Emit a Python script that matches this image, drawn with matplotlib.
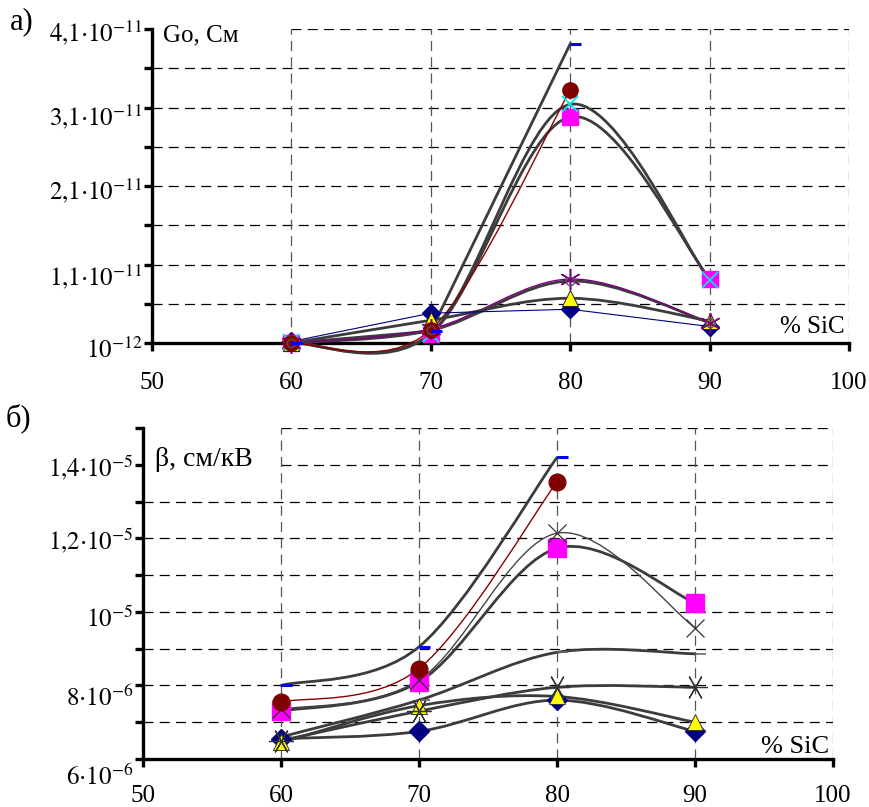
import numpy as np
import matplotlib.pyplot as plt
import matplotlib.transforms as mtransforms
from matplotlib.path import Path
from matplotlib.patches import PathPatch

plt.rcParams['font.family'] = ['Liberation Serif', 'DejaVu Serif']
plt.rcParams['mathtext.fontset'] = 'stix'

# ---- data ----
sic = [60, 70, 80, 90]
nan = np.nan

# panel a) Go, См
g_dash = [1.0e-12, 2.5e-12, 3.91e-11, nan]
g_circle = [1.0e-12, 2.7e-12, 3.32e-11, nan]
g_cross = [1.1e-12, 2.2e-12, 3.14e-11, 9.0e-12]
g_square = [1.0e-12, 2.2e-12, 2.98e-11, 9.2e-12]
g_star = [1.0e-12, 2.8e-12, 9.15e-12, 3.6e-12]
g_ring = [1.0e-12, 2.6e-12, 8.9e-12, 3.6e-12]
g_tri = [1.0e-12, 3.9e-12, 6.7e-12, 3.8e-12]
g_diamond = [1.2e-12, 4.8e-12, 5.3e-12, 3.1e-12]

g_major = [1e-12, 1.1e-11, 2.1e-11, 3.1e-11, 4.1e-11]
g_minor = [0.6e-11, 1.6e-11, 2.6e-11, 3.6e-11]
g_labels = [r'$10^{-12}$', r'$1{,}1{\cdot}10^{-11}$', r'$2{,}1{\cdot}10^{-11}$',
            r'$3{,}1{\cdot}10^{-11}$', r'$4{,}1{\cdot}10^{-11}$']

# panel б) beta, см/кВ
b_dash = [8.0e-6, 9.05e-6, 1.42e-5, nan]
b_circle = [7.55e-6, 8.46e-6, 1.354e-5, nan]
b_square = [7.3e-6, 8.1e-6, 1.173e-5, 1.024e-5]
b_cross = [7.35e-6, 8.15e-6, 1.214e-5, 9.57e-6]
b_flat = [6.6e-6, 7.6e-6, 8.9e-6, 8.86e-6]
b_star = [6.5e-6, 7.3e-6, 7.95e-6, 7.95e-6]
b_tri = [6.45e-6, 7.45e-6, 7.7e-6, 7.0e-6]
b_diamond = [6.55e-6, 6.75e-6, 7.6e-6, 6.75e-6]

b_major = [6e-6, 8e-6, 1e-5, 1.2e-5, 1.4e-5]
b_minor = [7e-6, 9e-6, 1.1e-5, 1.3e-5, 1.5e-5]
b_labels = [r'$6{\cdot}10^{-6}$', r'$8{\cdot}10^{-6}$', r'$10^{-5}$',
            r'$1{,}2{\cdot}10^{-5}$', r'$1{,}4{\cdot}10^{-5}$']

x_ticks = [50, 60, 70, 80, 90, 100]

GRAY = '#3c3c3c'
dash_marker = Path([[0, 0], [1, 0]])


def smooth_line(ax, xs, ys, **kw):
    # Excel-like smoothed line: cubic bezier through the points
    pts = np.array([(x, y) for x, y in zip(xs, ys) if not np.isnan(y)])
    n = len(pts)
    verts = [tuple(pts[0])]
    codes = [Path.MOVETO]
    for i in range(n - 1):
        p_prev = pts[max(i - 1, 0)]
        p_next = pts[min(i + 2, n - 1)]
        c1 = pts[i] + (pts[i + 1] - p_prev) / 6
        c2 = pts[i + 1] - (p_next - pts[i]) / 6
        verts += [tuple(c1), tuple(c2), tuple(pts[i + 1])]
        codes += [Path.CURVE4] * 3
    ax.add_patch(PathPatch(Path(verts, codes), fill=False, clip_on=False,
                           capstyle='round', **kw))


def frame(ax, ylo, yhi, major, minor, labels, fs, xpad, top_from, shifts):
    ax.set_xlim(50, 100)
    ax.set_ylim(ylo, yhi)
    for s in ['top', 'right']:
        ax.spines[s].set_visible(False)
    for s in ['left', 'bottom']:
        ax.spines[s].set_linewidth(2.4)
    levels = sorted(major[1:] + minor)
    for yv in levels:
        x0 = top_from if yv in (yhi, major[-1]) else 50
        ax.hlines(yv, x0, 100, colors='k', linestyles=(0, (8, 5)), lw=0.9, zorder=1)
    ax.vlines([60, 70, 80, 90, 100], ylo, yhi, colors='#555555',
              linestyles=(0, (8, 5)), lw=0.9, zorder=1)
    ax.set_xticks(x_ticks)
    ax.set_yticks(major)
    ax.set_yticklabels(labels)
    ax.set_yticks(minor, minor=True)
    ax.tick_params(axis='x', direction='out', length=6, width=2.4,
                   labelsize=fs, pad=xpad)
    ax.tick_params(axis='y', which='both', direction='out', length=6,
                   width=2.4, labelsize=fs, pad=1)
    # Excel places the labels a little below their ticks
    for lab, dy in zip(ax.get_yticklabels(), shifts):
        lab.set_transform(lab.get_transform() +
                          mtransforms.ScaledTranslation(0, -dy / 100, fig.dpi_scale_trans))


fig = plt.figure(figsize=(8.7, 8.07), dpi=100)

# ---------------- panel a) ----------------
ax1 = fig.add_axes([152 / 870, 1 - 343 / 807, 697 / 870, 314 / 807])
frame(ax1, 1e-12, 4.1e-11, g_major, g_minor, g_labels, 18, 15, 60, [5, 9, 2, 6, 1])

ax1.plot(sic, g_dash, color=GRAY, lw=2, zorder=3, clip_on=False)
smooth_line(ax1, sic, g_cross, color=GRAY, lw=2, zorder=3)
smooth_line(ax1, sic, g_square, color=GRAY, lw=2, zorder=3)
smooth_line(ax1, sic, g_circle, color='#8b0000', lw=1, zorder=3)
smooth_line(ax1, sic, g_ring, color=GRAY, lw=2, zorder=3)
smooth_line(ax1, sic, g_star, color='#800080', lw=1, zorder=3)
smooth_line(ax1, sic, g_tri, color=GRAY, lw=2, zorder=3)
ax1.plot(sic, g_diamond, color='#000080', lw=0.8, zorder=3, clip_on=False)

ax1.plot(sic, g_diamond, ls='none', marker='D', ms=9, color='#000080', zorder=5, clip_on=False)
ax1.plot(sic, g_tri, ls='none', marker='^', ms=11, mfc='#ffff00', mec='#222222', mew=0.7, zorder=6, clip_on=False)
ax1.plot(sic, g_star, ls='none', marker=(6, 2, 0), ms=15, mec='#800080', mew=1.1, zorder=6, clip_on=False)
ax1.plot(sic, g_ring, ls='none', marker='o', ms=6, mfc='none', mec='#555555', mew=1.0, zorder=7, clip_on=False)
ax1.plot(sic, g_square, ls='none', marker='s', ms=12, color='#ff00ff', zorder=5, clip_on=False)
ax1.plot(sic, g_cross, ls='none', marker='x', ms=11, mec='#00e5ee', mew=1.3, zorder=6, clip_on=False)
ax1.plot(sic, g_circle, ls='none', marker='o', ms=11, color='#800000', zorder=6, clip_on=False)
ax1.plot(sic, g_dash, ls='none', marker=dash_marker, ms=16, mec='#0000ff', mew=2.2, zorder=7, clip_on=False)

# ---------------- panel б) ----------------
ax2 = fig.add_axes([143 / 870, 1 - 759 / 807, 690 / 870, 331 / 807])
frame(ax2, 6e-6, 1.5e-5, b_major, b_minor, b_labels, 18, 13, 60, [16, 10, 5, 0, 0])

smooth_line(ax2, sic, b_dash, color=GRAY, lw=2, zorder=3)
smooth_line(ax2, sic, b_circle, color='#8b0000', lw=1, zorder=3)
smooth_line(ax2, sic, b_square, color=GRAY, lw=2, zorder=3)
smooth_line(ax2, sic, b_cross, color='#444444', lw=1, zorder=3)
smooth_line(ax2, sic, b_flat, color=GRAY, lw=2, zorder=3)
smooth_line(ax2, sic, b_star, color=GRAY, lw=2, zorder=3)
smooth_line(ax2, sic, b_tri, color=GRAY, lw=2, zorder=3)
smooth_line(ax2, sic, b_diamond, color=GRAY, lw=2, zorder=3)

ax2.plot(sic, b_diamond, ls='none', marker='D', ms=10, color='#000080', zorder=5, clip_on=False)
ax2.plot(sic, b_tri, ls='none', marker='^', ms=12, mfc='#ffff00', mec='#333333', mew=0.7, zorder=6, clip_on=False)
ax2.plot(sic, b_star, ls='none', marker=(6, 2, 90), ms=18, mec='#333333', mew=0.9, zorder=7, clip_on=False)
ax2.plot(sic, b_flat, ls='none', marker=dash_marker, ms=16, mec='#666666', mew=1.2, zorder=4, clip_on=False)
ax2.plot(sic, b_square, ls='none', marker='s', ms=13, color='#ff00ff', zorder=5, clip_on=False)
ax2.plot(sic, b_cross, ls='none', marker='x', ms=13, mec='#333333', mew=0.9, zorder=6, clip_on=False)
ax2.plot(sic, b_circle, ls='none', marker='o', ms=12, color='#800000', zorder=6, clip_on=False)
ax2.plot(sic, b_dash, ls='none', marker=dash_marker, ms=16, mec='#0000ff', mew=2.2, zorder=7, clip_on=False)

# ---------------- texts ----------------
fig.text(10 / 870, 1 - 22 / 807, 'а)', fontsize=22, va='center', ha='left')
fig.text(6 / 870, 1 - 418 / 807, 'б)', fontsize=22, va='center', ha='left')
fig.text(163 / 870, 1 - 35 / 807, 'Go, См', fontsize=18, va='center', ha='left',
         bbox=dict(fc='white', ec='none', pad=1))
fig.text(155 / 870, 1 - 460 / 807, 'β, см/кВ', fontsize=20, va='center', ha='left',
         bbox=dict(fc='white', ec='none', pad=1))
fig.text(845 / 870, 1 - 327 / 807, '% SiC', fontsize=18, va='center', ha='right')
fig.text(829 / 870, 1 - 747 / 807, '% SiC', fontsize=19, va='center', ha='right')

fig.savefig('out.png', dpi=100)
